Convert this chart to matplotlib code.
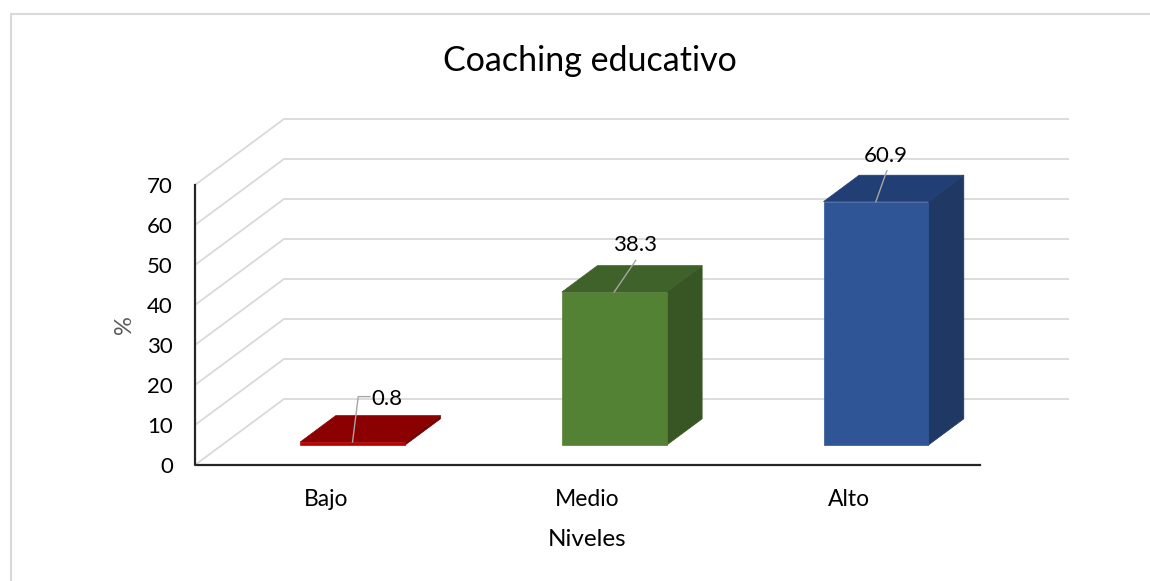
import matplotlib
matplotlib.use('Agg')
import matplotlib.pyplot as plt
from matplotlib.patches import Polygon, Rectangle

plt.rcParams['font.family'] = ['Lato', 'DejaVu Sans']

# --- data ---
title = 'Coaching educativo'
niveles = ['Bajo', 'Medio', 'Alto']
porcentajes = [0.8, 38.3, 60.9]
y_ticks = [0, 10, 20, 30, 40, 50, 60, 70]
x_label = 'Niveles'
y_label = '%'

# (front, top, side) per bar
bar_colors = [
    ('#C00000', '#8B0000', '#700000'),
    ('#548235', '#3F612A', '#375623'),
    ('#2F5597', '#213F74', '#1F3864'),
]

W, H = 1150, 581
fig = plt.figure(figsize=(W / 100, H / 100), dpi=100)
ax = fig.add_axes([0, 0, 1, 1])

# map data units to the picture: category 0 at x=195px, value 0 at y=465px
X0, CAT_W = 195, 261.67
Y0, PX_V = 465, 4.0
ax.set_xlim(-X0 / CAT_W, (W - X0) / CAT_W)
ax.set_ylim((Y0 - H) / PX_V, Y0 / PX_V)
ax.axis('off')

# oblique depth offset (full depth of the floor)
DX, DV = 89 / CAT_W, 66 / PX_V


def proj(c, v, d):
    return (c + d * DX, v + d * DV)


def px(dx, dy):
    # pixel offset -> data offset
    return dx / CAT_W, -dy / PX_V


n = len(niveles)
vmax = y_ticks[-1]

# back wall gridlines + diagonals on the side wall
for t in y_ticks:
    ax.plot([0, DX, n + DX], [t, t + DV, t + DV], color='#D9D9D9', lw=1.3,
            solid_capstyle='butt', zorder=1)

# front axis lines
ax.plot([0, 0, n], [vmax, 0, 0], color='#262626', lw=1.6, zorder=5)

# tick labels
for t in y_ticks:
    ax.text(-22 / CAT_W, t, str(t), ha='right', va='center_baseline',
            fontsize=16, color='#000000')

# bars (oblique 3D boxes)
b0, b1 = 0.3, 0.7   # along category
d0, d1 = 0.3, 0.7   # along depth
for i, (h, (cf, ct, cs)) in enumerate(zip(porcentajes, bar_colors)):
    side = [proj(i + b1, 0, d0), proj(i + b1, 0, d1), proj(i + b1, h, d1), proj(i + b1, h, d0)]
    front = [proj(i + b0, 0, d0), proj(i + b1, 0, d0), proj(i + b1, h, d0), proj(i + b0, h, d0)]
    top = [proj(i + b0, h, d0), proj(i + b1, h, d0), proj(i + b1, h, d1), proj(i + b0, h, d1)]
    ax.add_patch(Polygon(side, closed=True, fc=cs, ec=cs, lw=0.5, zorder=3))
    ax.add_patch(Polygon(front, closed=True, fc=cf, ec=cf, lw=0.5, zorder=3))
    ax.add_patch(Polygon(top, closed=True, fc=ct, ec=ct, lw=0.5, zorder=3))

# data labels with leader lines (pixel offsets from the bar's top front edge)
leaders = [
    [(0, 0), (5.7, -45.4), (17.3, -45.4)],
    [(0, 0), (21.6, -31.7)],
    [(0, 0), (11, -31)],
]
text_pos = [(19, -45, 'left'), (21, -49, 'center'), (10, -48, 'center')]
for i, h in enumerate(porcentajes):
    sx, sy = proj(i + 0.5, h, d0)
    xs, ys = [], []
    for ox, oy in leaders[i]:
        dx, dy = px(ox, oy)
        xs.append(sx + dx)
        ys.append(sy + dy)
    ax.plot(xs, ys, color='#A6A6A6', lw=1.0, zorder=6)
    tx, ty, ha = text_pos[i]
    dx, dy = px(tx, ty)
    ax.text(sx + dx, sy + dy, f'{h}', ha=ha, va='center_baseline',
            fontsize=16, color='#000000', zorder=7)

# category labels
for i, name in enumerate(niveles):
    ax.text(i + 0.5, -8.25, name, ha='center', va='center_baseline', fontsize=16.5)

ax.text(n / 2, -18, x_label, ha='center', va='center_baseline', fontsize=17.5)
ax.text(-71 / CAT_W, 35, y_label, ha='center', va='center', rotation=90,
        fontsize=17, color='#595959')
ax.text(n / 2 + 0.01, 101.75, title, ha='center', va='center_baseline', fontsize=24.5)

# chart border
fig.add_artist(Rectangle((11 / W, -0.1), 2, 1.1 - 13.5 / H, transform=fig.transFigure,
                         fill=False, ec='#D9D9D9', lw=1.5))

fig.savefig('out.png', dpi=100)
